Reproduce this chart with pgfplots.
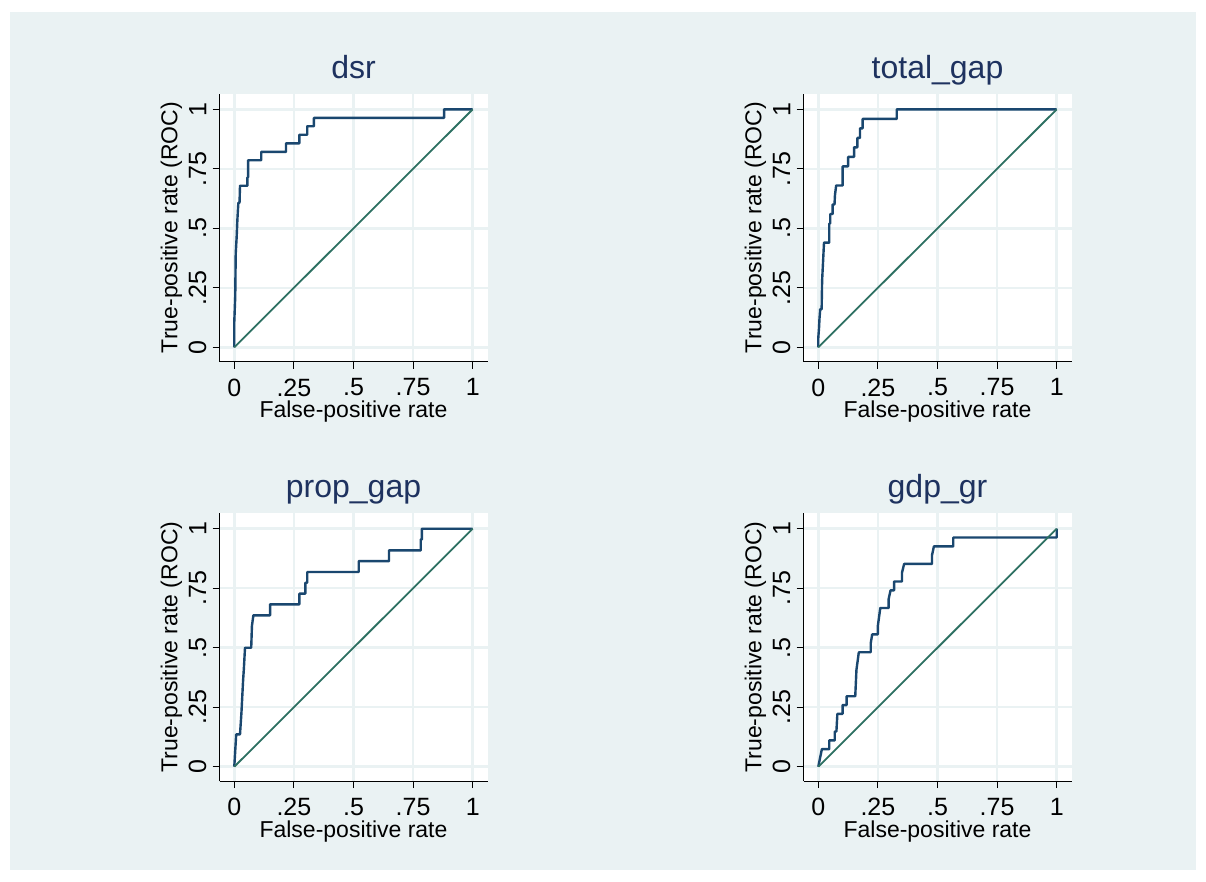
\documentclass[border=0pt]{standalone}
\usepackage{fontspec}
\setmainfont{Liberation Sans}
\usepackage{pgfplots}
\pgfplotsset{compat=1.18}
\definecolor{bgc}{RGB}{234,242,243}
\definecolor{gridc}{RGB}{234,242,243}
\definecolor{navyc}{RGB}{26,71,111}
\definecolor{tealc}{RGB}{45,112,98}
\definecolor{titlec}{RGB}{30,50,95}
\pgfplotsset{rocax/.style={
  scale only axis, width=268pt, height=268pt, anchor=south west,
  xmin=-0.062, xmax=1.062, ymin=-0.06, ymax=1.066,
  axis x line*=bottom, axis y line*=left,
  axis line style={black, line width=0.9pt},
  tick align=outside, major tick length=7pt,
  tick style={black, line width=0.9pt},
  xtick={0,0.25,0.5,0.75,1}, xticklabels={0,.25,.5,.75,1},
  ytick={0,0.25,0.5,0.75,1}, yticklabels={0,.25,.5,.75,1},
  grid=major, grid style={gridc, line width=2.5pt},
  axis background/.style={fill=white},
  tick label style={font=\fontsize{25}{29}\selectfont},
  xticklabel style={anchor=north, inner sep=0pt, yshift=-10pt},
  yticklabel style={rotate=90, anchor=south, inner sep=6pt},
  xlabel={False-positive rate}, ylabel={True-positive rate (ROC)},
  label style={font=\fontsize{23}{27}\selectfont},
  xlabel style={at={(axis description cs:0.5,-0.187)}, anchor=center},
  ylabel style={at={(axis description cs:-0.179,0.5)}, anchor=center},
  title style={at={(axis description cs:0.5,1.034)}, anchor=base, font=\fontsize{32}{36}\selectfont, text=titlec},
  roc/.style={navyc, line width=2.4pt, line join=round, mark=none},
  ref/.style={tealc, line width=1.8pt, mark=none},
}}
\begin{document}
\begin{tikzpicture}[x=1pt,y=1pt]
\fill[white] (0,0) rectangle (1206,881);
\fill[bgc] (10,11) rectangle (1196,869);
\useasboundingbox (0,0) rectangle (1206,881);
% dsr
\begin{axis}[rocax, at={(219.5pt,519.4pt)}, title={dsr}]
\addplot[roc] coordinates {(0,0) (0,0.107) (0.004,0.214) (0.006,0.393) (0.010,0.464) (0.013,0.536) (0.017,0.607) (0.022,0.607) (0.024,0.679) (0.055,0.679) (0.055,0.714) (0.058,0.714) (0.058,0.786) (0.113,0.786) (0.113,0.821) (0.217,0.821) (0.217,0.857) (0.273,0.857) (0.273,0.893) (0.306,0.893) (0.306,0.929) (0.334,0.929) (0.334,0.964) (0.880,0.964) (0.880,1) (1,1)};
\addplot[ref] coordinates {(0,0) (1,1)};
\end{axis}
% total_gap
\begin{axis}[rocax, at={(803.5pt,519.4pt)}, title={total\_gap}]
\addplot[roc] coordinates {(0,0) (0,0.04) (0.003,0.08) (0.005,0.12) (0.008,0.16) (0.014,0.16) (0.016,0.28) (0.020,0.36) (0.024,0.44) (0.046,0.44) (0.046,0.52) (0.050,0.52) (0.050,0.56) (0.060,0.56) (0.060,0.60) (0.068,0.60) (0.070,0.64) (0.075,0.68) (0.102,0.68) (0.102,0.76) (0.125,0.76) (0.125,0.80) (0.150,0.80) (0.150,0.84) (0.164,0.84) (0.164,0.88) (0.175,0.88) (0.175,0.92) (0.186,0.92) (0.186,0.96) (0.329,0.96) (0.329,1) (1,1)};
\addplot[ref] coordinates {(0,0) (1,1)};
\end{axis}
% prop_gap
\begin{axis}[rocax, at={(219.5pt,100pt)}, title={prop\_gap}]
\addplot[roc] coordinates {(0,0) (0.008,0.136) (0.024,0.136) (0.030,0.227) (0.037,0.364) (0.040,0.409) (0.045,0.5) (0.071,0.5) (0.074,0.591) (0.080,0.636) (0.150,0.636) (0.150,0.682) (0.273,0.682) (0.273,0.727) (0.298,0.727) (0.298,0.773) (0.306,0.773) (0.306,0.818) (0.522,0.818) (0.522,0.864) (0.649,0.864) (0.649,0.909) (0.782,0.909) (0.782,0.955) (0.787,0.955) (0.787,1) (1,1)};
\addplot[ref] coordinates {(0,0) (1,1)};
\end{axis}
% gdp_gr
\begin{axis}[rocax, at={(803.5pt,100pt)}, title={gdp\_gr}]
\addplot[roc] coordinates {(0,0) (0.015,0.074) (0.046,0.074) (0.046,0.111) (0.069,0.111) (0.069,0.148) (0.076,0.148) (0.080,0.222) (0.102,0.222) (0.102,0.259) (0.119,0.259) (0.119,0.296) (0.155,0.296) (0.160,0.407) (0.170,0.481) (0.220,0.481) (0.220,0.519) (0.226,0.556) (0.250,0.556) (0.250,0.593) (0.260,0.667) (0.295,0.667) (0.295,0.704) (0.303,0.741) (0.318,0.741) (0.318,0.778) (0.351,0.778) (0.351,0.815) (0.360,0.852) (0.477,0.852) (0.477,0.889) (0.485,0.926) (0.566,0.926) (0.566,0.963) (1,0.963) (1,1)};
\addplot[ref] coordinates {(0,0) (1,1)};
\end{axis}
\end{tikzpicture}
\end{document}
